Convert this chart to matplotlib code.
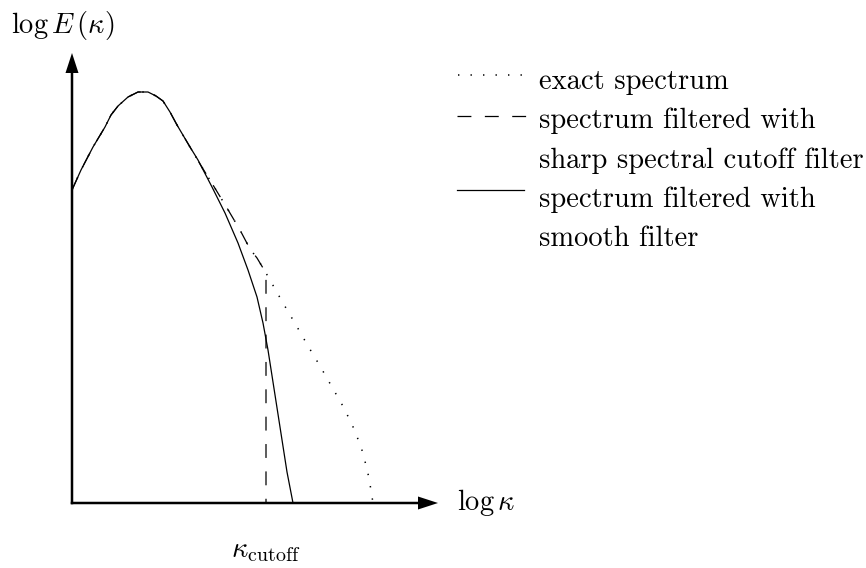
import matplotlib
matplotlib.use("Agg")
import matplotlib.pyplot as plt
from matplotlib.lines import Line2D

plt.rcParams["font.family"] = ["cmr10"]
plt.rcParams["mathtext.fontset"] = "cm"
plt.rcParams["axes.formatter.use_mathtext"] = True
plt.rcParams["lines.scale_dashes"] = False

# log(kappa) / log(E) (arbitrary units)
exact_x = [0.00, 0.09, 0.21, 0.33, 0.39, 0.46, 0.56, 0.66, 0.76, 0.84, 0.91,
           0.98, 1.05, 1.18, 1.28, 1.41, 1.55, 1.68, 1.78, 1.85, 1.94,
           2.11, 2.24, 2.36, 2.48, 2.60, 2.72, 2.83, 2.91, 2.97, 3.01]
exact_y = [3.13, 3.33, 3.56, 3.76, 3.88, 3.97, 4.06, 4.11, 4.11, 4.07, 4.02,
           3.91, 3.78, 3.56, 3.39, 3.18, 2.95, 2.73, 2.54, 2.45, 2.30,
           2.00, 1.78, 1.57, 1.37, 1.16, 0.95, 0.72, 0.50, 0.25, 0.00]

# sharp cutoff: exact spectrum up to kappa_cutoff, then drops to zero
sharp_x = exact_x[:21] + [1.94]
sharp_y = exact_y[:21] + [0.00]

smooth_x = [0.00, 0.09, 0.21, 0.33, 0.39, 0.46, 0.56, 0.66, 0.76, 0.84, 0.91,
            0.98, 1.05, 1.18, 1.26, 1.40, 1.53, 1.66, 1.76, 1.85, 1.91,
            1.96, 2.08, 2.15, 2.21]
smooth_y = [3.13, 3.33, 3.56, 3.76, 3.88, 3.97, 4.06, 4.11, 4.11, 4.07, 4.02,
            3.91, 3.78, 3.56, 3.43, 3.16, 2.90, 2.60, 2.33, 2.06, 1.80,
            1.53, 0.76, 0.31, 0.00]

kappa_cutoff = 1.94
x_end = 3.66
y_end = 4.50

legend_labels = ["exact spectrum",
                 "spectrum filtered with",
                 "sharp spectral cutoff filter",
                 "spectrum filtered with",
                 "smooth filter"]

fs = 20.5

fig = plt.figure(figsize=(8.66, 5.68), dpi=100)
ax = fig.add_axes([0, 0, 1, 1])
ax.set_xlim(-0.72, 7.94)
ax.set_ylim(-0.65, 5.03)
ax.axis("off")

dotted = (0, (1.0, 8.0))
dashed = (0, (10, 9.7))
lw = 0.9

ax.plot(exact_x, exact_y, color="k", lw=1.1, linestyle=dotted)
ax.plot(sharp_x, sharp_y, color="k", lw=lw, linestyle=dashed)
ax.plot(smooth_x, smooth_y, color="k", lw=lw)

# axes arrows
arrow_kw = dict(width=0.025, head_width=0.13, head_length=0.2,
                length_includes_head=True, fc="k", ec="k", lw=0)
ax.arrow(-0.0125, 0, x_end + 0.0125, 0, **arrow_kw)
ax.arrow(0, -0.0125, 0, y_end + 0.0125, **arrow_kw)

ax.text(x_end + 0.19, 0, r"$\log\kappa$", fontsize=fs, va="center", ha="left")
ax.text(-0.61, 4.78, r"$\log E\,(\kappa)$", fontsize=fs, va="center", ha="left")
ax.text(kappa_cutoff, -0.48, r"$\kappa_{\rm cutoff}$", fontsize=fs,
        va="center", ha="center")

# hand-made legend, figure pixel coordinates
W, H = 866, 568
def fx(px):
    return px / W
def fy(py):
    return 1 - py / H

fig.add_artist(Line2D([fx(458), fx(522)], [fy(75), fy(75)], color="k",
                      lw=1.1, linestyle=dotted))
fig.add_artist(Line2D([fx(457), fx(526)], [fy(116), fy(116)], color="k",
                      lw=lw, linestyle=dashed))
fig.add_artist(Line2D([fx(457), fx(524)], [fy(190), fy(190)], color="k",
                      lw=lw))

rows = [79, 118, 158, 197, 236]
for label, py in zip(legend_labels, rows):
    fig.text(fx(539), fy(py), label, fontsize=fs, va="center_baseline",
             ha="left")

fig.savefig("out.png", dpi=100)
